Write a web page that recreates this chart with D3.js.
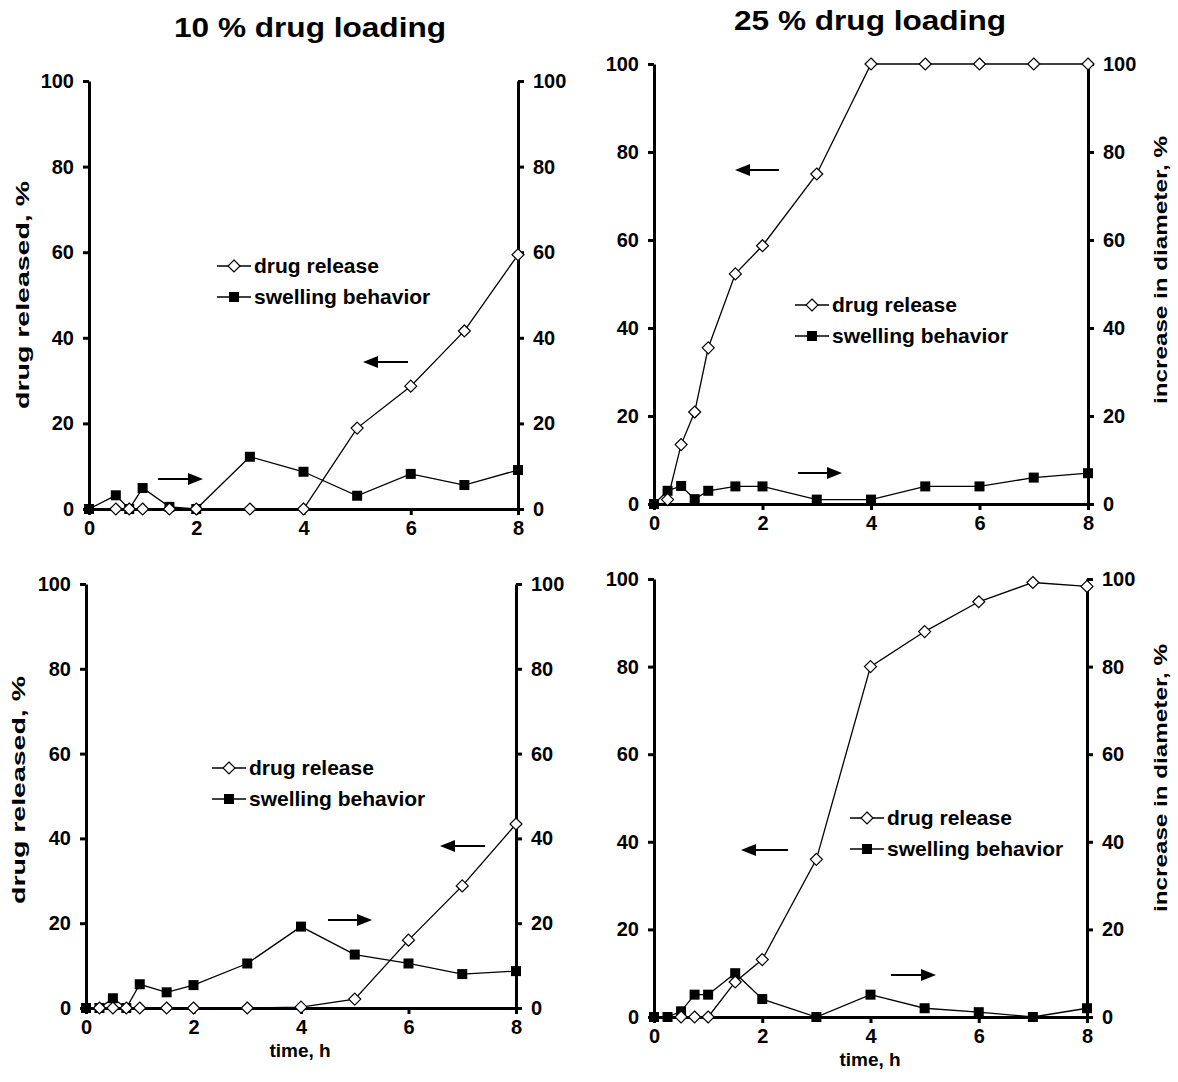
<html>
<head>
<meta charset="utf-8" />
<script src="https://d3js.org/d3.v7.min.js"></script>
<style>
  body { margin: 0; background: #fff; }
  text { font-family: "Liberation Sans", Arial, sans-serif; font-weight: bold; fill: #000; }
</style>
</head>
<body>
<svg id="chart" width="1178" height="1082"></svg>
<script>
// tick labels
var xTicks = [0, 2, 4, 6, 8];
var yTicks = [0, 20, 40, 60, 80, 100];

// 10 % loading, top
var relTime1 = [0.5, 0.75, 1, 1.5, 2, 3, 4, 5, 6, 7, 8];
var relVal1 = [0, 0, 0, 0, 0, 0, 0, 18.9, 28.7, 41.6, 59.4];
var swTime1 = [0, 0.5, 0.75, 1, 1.5, 2, 3, 4, 5, 6, 7, 8];
var swVal1 = [0, 3.2, 0, 4.9, 0.5, 0, 12.2, 8.7, 3.1, 8.2, 5.6, 9.1];

// 25 % loading, top
var relTime2 = [0.25, 0.5, 0.75, 1, 1.5, 2, 3, 4, 5, 6, 7, 8];
var relVal2 = [1, 13.5, 20.9, 35.5, 52.3, 58.7, 75, 100, 100, 100, 100, 100];
var swTime2 = [0, 0.25, 0.5, 0.75, 1, 1.5, 2, 3, 4, 5, 6, 7, 8];
var swVal2 = [0, 3, 4.1, 1.1, 3, 4, 4, 1, 1, 4, 4, 6, 7];

// 10 % loading, bottom
var relTime3 = [0.25, 0.5, 0.75, 1, 1.5, 2, 3, 4, 5, 6, 7, 8];
var relVal3 = [0, 0, 0, 0, 0, 0, 0, 0.2, 2.1, 16, 28.8, 43.4];
var swTime3 = [0, 0.25, 0.5, 0.75, 1, 1.5, 2, 3, 4, 5, 6, 7, 8];
var swVal3 = [0, 0, 2.3, 0, 5.6, 3.7, 5.4, 10.5, 19.2, 12.6, 10.5, 8, 8.7];

// 25 % loading, bottom
var relTime4 = [0.5, 0.75, 1, 1.5, 2, 3, 4, 5, 6, 7, 8];
var relVal4 = [0, 0, 0, 8, 13.1, 36, 80, 88, 94.8, 99.2, 98.3];
var swTime4 = [0, 0.25, 0.5, 0.75, 1, 1.5, 2, 3, 4, 5, 6, 7, 8];
var swVal4 = [0, 0, 1.3, 5.1, 5.1, 10, 4.1, 0, 5.1, 2, 1.1, 0, 2];

var svg = d3.select("#chart");

var panels = [
  { rt: relTime1, rv: relVal1, st: swTime1, sv: swVal1,
    box: { l: 89, r: 518, b: 509, t: 81 },
    leg: { x: 217, y: 266 }, arrL: [363, 408, 362], arrR: [158, 203, 479],
    yTitle: { text: "drug released, %", x: 22, y: 295, len: 228 } },
  { rt: relTime2, rv: relVal2, st: swTime2, sv: swVal2,
    box: { l: 654, r: 1088, b: 504, t: 64 },
    leg: { x: 795, y: 305 }, arrL: [735, 779, 170], arrR: [798, 842, 473],
    y2Title: { text: "increase in diameter, %", x: 1160, y: 270, len: 268 } },
  { rt: relTime3, rv: relVal3, st: swTime3, sv: swVal3,
    box: { l: 86, r: 516, b: 1008, t: 584 },
    leg: { x: 212, y: 768 }, arrL: [440, 485, 846], arrR: [328, 372, 920],
    yTitle: { text: "drug released, %", x: 18, y: 790, len: 228 },
    xTitle: { text: "time, h", x: 300, y: 1057 } },
  { rt: relTime4, rv: relVal4, st: swTime4, sv: swVal4,
    box: { l: 654, r: 1087, b: 1017, t: 579 },
    leg: { x: 850, y: 818 }, arrL: [741, 788, 850], arrR: [891, 936, 975],
    y2Title: { text: "increase in diameter, %", x: 1160, y: 778, len: 268 },
    xTitle: { text: "time, h", x: 870, y: 1066 } }
];

// titles
svg.append("text").attr("x", 310).attr("y", 37).attr("text-anchor", "middle")
  .attr("textLength", 272).attr("lengthAdjust", "spacingAndGlyphs")
  .style("font-size", "28px").text("10 % drug loading");
svg.append("text").attr("x", 870).attr("y", 30).attr("text-anchor", "middle")
  .attr("textLength", 272).attr("lengthAdjust", "spacingAndGlyphs")
  .style("font-size", "28px").text("25 % drug loading");

function diamond(g, x, y) {
  g.append("path")
    .attr("d", "M" + x + "," + (y - 6) + "L" + (x + 6) + "," + y + "L" + x + "," + (y + 6) + "L" + (x - 6) + "," + y + "Z")
    .attr("fill", "#fff").attr("stroke", "#000").attr("stroke-width", 1.2);
}
function square(g, x, y) {
  g.append("rect").attr("x", x - 5).attr("y", y - 5).attr("width", 10).attr("height", 10)
    .attr("fill", "#000");
}
function arrow(g, x1, x2, y, toLeft) {
  var tip = toLeft ? x1 : x2, tail = toLeft ? x2 : x1, dir = toLeft ? 1 : -1;
  g.append("line").attr("x1", tail).attr("x2", tip + dir * 10).attr("y1", y).attr("y2", y)
    .attr("stroke", "#000").attr("stroke-width", 2);
  g.append("path")
    .attr("d", "M" + tip + "," + y + "L" + (tip + dir * 15) + "," + (y - 6) + "L" + (tip + dir * 15) + "," + (y + 6) + "Z")
    .attr("fill", "#000");
}

panels.forEach(function (p) {
  var g = svg.append("g");
  var x = d3.scaleLinear().domain([0, 8]).range([p.box.l, p.box.r]);
  var y = d3.scaleLinear().domain([0, 100]).range([p.box.b, p.box.t]);

  var axisStyle = function (a) {
    a.select(".domain").attr("stroke-width", 3);
    a.selectAll(".tick line").attr("stroke-width", 3);
    a.selectAll(".tick text").style("font-size", "20px")
      .style("font-family", "'Liberation Sans', Arial, sans-serif").style("font-weight", "bold");
  };

  g.append("g").attr("transform", "translate(" + p.box.l + ",0)")
    .call(d3.axisLeft(y).tickValues(yTicks).tickSize(6).tickSizeOuter(0).tickPadding(9))
    .call(axisStyle);
  g.append("g").attr("transform", "translate(" + p.box.r + ",0)")
    .call(d3.axisRight(y).tickValues(yTicks).tickSize(6).tickSizeOuter(0).tickPadding(9))
    .call(axisStyle);
  g.append("g").attr("transform", "translate(0," + p.box.b + ")")
    .call(d3.axisBottom(x).tickValues(xTicks).tickSize(6).tickSizeOuter(0).tickPadding(6))
    .call(axisStyle);

  var line = d3.line().x(function (d) { return x(d[0]); }).y(function (d) { return y(d[1]); });
  var sw = d3.zip(p.st, p.sv), rel = d3.zip(p.rt, p.rv);

  g.append("path").datum(sw).attr("d", line).attr("fill", "none").attr("stroke", "#000").attr("stroke-width", 1.3);
  g.append("path").datum(rel).attr("d", line).attr("fill", "none").attr("stroke", "#000").attr("stroke-width", 1.3);
  sw.forEach(function (d) { square(g, x(d[0]), y(d[1])); });
  rel.forEach(function (d) { diamond(g, x(d[0]), y(d[1])); });

  // legend
  var L = p.leg;
  [0, 1].forEach(function (i) {
    var ly = L.y + i * 31;
    g.append("line").attr("x1", L.x).attr("x2", L.x + 34).attr("y1", ly).attr("y2", ly)
      .attr("stroke", "#000").attr("stroke-width", 1.3);
    if (i === 0) diamond(g, L.x + 17, ly); else square(g, L.x + 17, ly);
    g.append("text").attr("x", L.x + 37).attr("y", ly).attr("dy", "0.35em")
      .style("font-size", "21px").text(i === 0 ? "drug release" : "swelling behavior");
  });

  arrow(g, p.arrL[0], p.arrL[1], p.arrL[2], true);
  arrow(g, p.arrR[0], p.arrR[1], p.arrR[2], false);

  [p.yTitle, p.y2Title].forEach(function (t) {
    if (!t) return;
    g.append("text").attr("transform", "translate(" + t.x + "," + t.y + ") rotate(-90)")
      .attr("text-anchor", "middle").attr("dy", "0.35em")
      .attr("textLength", t.len).attr("lengthAdjust", "spacingAndGlyphs")
      .style("font-size", "19px").text(t.text);
  });
  if (p.xTitle) {
    g.append("text").attr("x", p.xTitle.x).attr("y", p.xTitle.y).attr("text-anchor", "middle")
      .style("font-size", "19px").text(p.xTitle.text);
  }
});
</script>
</body>
</html>
